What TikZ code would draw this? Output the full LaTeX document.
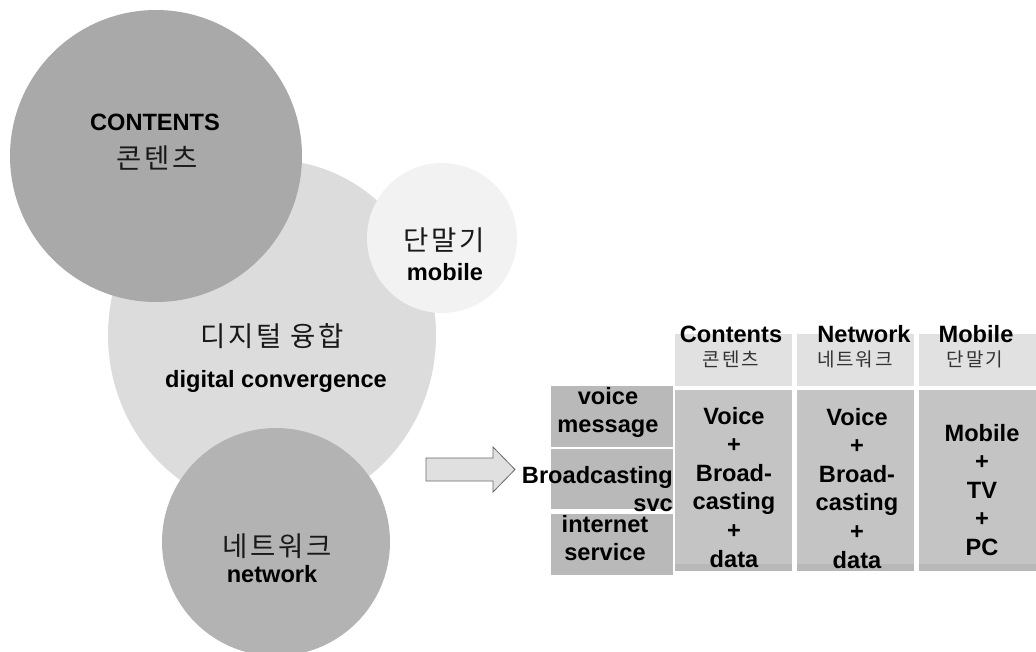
\documentclass[tikz,border=0pt]{standalone}
\usepackage{fontspec}
\setmainfont{Liberation Sans}
\newfontfamily\kr[LetterSpace=10]{Noto Sans CJK KR}
\newfontfamily\krnarrow[LetterSpace=10]{Noto Sans CJK KR}

\definecolor{bigdisc}{HTML}{DCDCDC}
\definecolor{contdisc}{HTML}{A9A9A9}
\definecolor{netdisc}{HTML}{B3B3B3}
\definecolor{mobdisc}{HTML}{F2F2F2}
\definecolor{hdrfill}{HTML}{E1E1E1}
\definecolor{bodyfill}{HTML}{C4C4C4}
\definecolor{bandfill}{HTML}{B8B8B8}
\definecolor{rowfill}{HTML}{B9B9B9}
\definecolor{arrowfill}{HTML}{E0E0E0}
\definecolor{arrowline}{HTML}{6A6A6A}

\tikzset{
  en/.style={font=\bfseries\fontsize{23.6}{28.6}\selectfont, inner sep=0pt},
  krbig/.style={font=\kr\fontsize{27.5}{31}\selectfont, inner sep=0pt, text=black!90},
  krsmall/.style={font=\krnarrow\fontsize{19}{22}\selectfont, inner sep=0pt, text=black!80},
  hdrcell/.style={rectangle, fill=hdrfill, inner sep=0pt, minimum width=117, minimum height=52},
  bodycell/.style={rectangle, fill=bodyfill, inner sep=0pt, minimum width=117, minimum height=181,
    path picture={\fill[bandfill] (path picture bounding box.south west) rectangle
      ([yshift=7pt]path picture bounding box.south east);}},
  rowcell/.style={rectangle, fill=rowfill, inner sep=0pt, minimum width=122, minimum height=61},
}

\newcommand{\stack}[2][c]{{\setlength{\tabcolsep}{0pt}\renewcommand{\arraystretch}{1}\begin{tabular}[t]{#1}#2\end{tabular}}}

\begin{document}
\begin{tikzpicture}[x=1pt,y=-1pt]
\useasboundingbox (0,0) rectangle (1036,651);

% --- overlapping discs ---
\fill[bigdisc] (272,335) ellipse [x radius=164, y radius=175];
\node[circle, fill=contdisc, minimum size=292, inner sep=0pt] (contents) at (156,156) {};
\node[circle, fill=mobdisc, minimum size=150, inner sep=0pt] (mobile) at (442,238) {};
\node[circle, fill=netdisc, minimum size=228, inner sep=0pt] (network) at (276,542) {};

% disc labels
\node[en, anchor=base] (contentsEn) at (155,130) {CONTENTS};
\node[krbig] (contentsKr) at (157,158) {콘텐츠};
\node[krbig] (mobileKr) at (444,240) {단말기};
\node[en, anchor=base] (mobileEn) at (445,280) {mobile};
\node[krbig] (digitalKr) at (272,336) {디지털 융합};
\node[en, anchor=base] (digitalEn) at (276,387) {digital convergence};
\node[krbig] (networkKr) at (277,546) {네트워크};
\node[en, anchor=base] (networkEn) at (272,582) {network};

% --- block arrow ---
\draw[fill=arrowfill, draw=arrowline, line width=0.8pt, line join=miter]
  (426,458) -- (493,458) -- (493,447) -- (515,469.5) -- (493,492) -- (493,481) -- (426,481) -- cycle;

% --- row cells ---
\node[rowcell] (rowVoice) at (612,416.5) {};
\node[rowcell, minimum height=60] (rowBroad) at (612,479) {};
\node[rowcell] (rowNet) at (612,544.5) {};
\node[en, anchor=base] (rowVoiceT) at (608,404) {\stack{voice\\message}};
\node[en, anchor=base east] (rowBroadT) at (673,483) {\stack[r]{Broadcasting\\svc\hspace{7pt}}};
\node[en, anchor=base] (rowNetT) at (605,532) {\stack{internet\\service}};

% --- header cells ---
\node[hdrcell] (hdrC) at (733.5,360) {};
\node[hdrcell] (hdrN) at (855.5,360) {};
\node[hdrcell] (hdrM) at (977.5,360) {};
\node[en, anchor=base] (hdrCen) at (731,342) {Contents};
\node[en, anchor=base] (hdrNen) at (864,342) {Network};
\node[en, anchor=base] (hdrMen) at (976,342) {Mobile};
\node[krsmall] (hdrCkr) at (731,359) {콘텐츠};
\node[krsmall] (hdrNkr) at (855,359) {네트워크};
\node[krsmall] (hdrMkr) at (975,359) {단말기};

% --- body cells ---
\node[bodycell] (bodyC) at (733.5,480.5) {};
\node[bodycell] (bodyN) at (855.5,480.5) {};
\node[bodycell] (bodyM) at (977.5,480.5) {};
\node[en, anchor=base] (bodyCT) at (734,424) {\stack{Voice\\+\\Broad-\\casting\\+\\data}};
\node[en, anchor=base] (bodyNT) at (857,425) {\stack{Voice\\+\\Broad-\\casting\\+\\data}};
\node[en, anchor=base] (bodyMT) at (982,441) {\stack{Mobile\\+\\TV\\+\\PC}};

\end{tikzpicture}
\end{document}
